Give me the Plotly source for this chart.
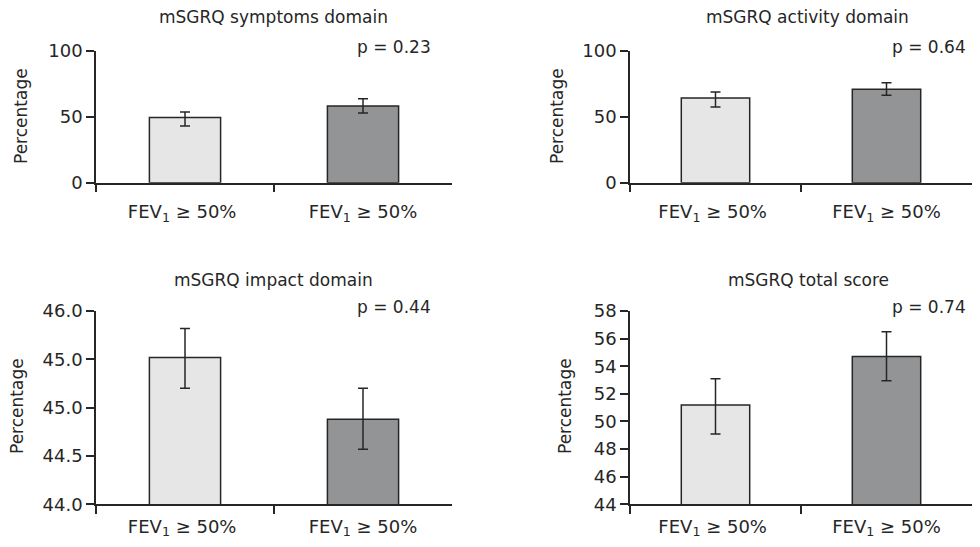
import plotly.graph_objects as go

categories = ["FEV<sub>1</sub> ≥ 50% ", "FEV<sub>1</sub> ≥ 50%"]
panel_titles = ["mSGRQ symptoms domain", "mSGRQ activity domain",
                "mSGRQ impact domain", "mSGRQ total score"]
p_values = ["p = 0.23", "p = 0.64", "p = 0.44", "p = 0.74"]
y_title = "Percentage"

symptoms = [49.5, 58.2]
symptoms_err_plus = [4.2, 5.6]
symptoms_err_minus = [6.5, 5.3]

activity = [64.3, 70.9]
activity_err_plus = [4.6, 5.0]
activity_err_minus = [6.8, 4.5]

impact = [45.52, 44.88]
impact_err_plus = [0.30, 0.32]
impact_err_minus = [0.32, 0.31]

total = [51.2, 54.7]
total_err_plus = [1.9, 1.8]
total_err_minus = [2.1, 1.75]

yticks_pct = [0, 50, 100]
yticks_impact = [44.0, 44.5, 45.0, 45.5, 46.0]
yticks_impact_text = ["44.0", "44.5", "45.0", "45.0", "46.0"]
yticks_total = [44, 46, 48, 50, 52, 54, 56, 58]

bar_colors = ["#e5e6e5", "#939496"]
ink = "#262626"
FONT = "DejaVu Sans"

fig = go.Figure()

panels = [
    (symptoms, symptoms_err_plus, symptoms_err_minus),
    (activity, activity_err_plus, activity_err_minus),
    (impact, impact_err_plus, impact_err_minus),
    (total, total_err_plus, total_err_minus),
]

for i, (vals, ep, em) in enumerate(panels):
    n = "" if i == 0 else str(i + 1)
    fig.add_trace(go.Bar(
        x=categories, y=vals,
        xaxis="x" + n, yaxis="y" + n,
        width=0.4,
        marker=dict(color=bar_colors, line=dict(color=ink, width=1.5)),
        error_y=dict(type="data", symmetric=False, array=ep, arrayminus=em,
                     color=ink, thickness=1.5, width=5),
        showlegend=False, hoverinfo="y",
    ))

# page body has an 8px margin: the figure fills 964 x 531 starting at (8, 8)
OFF, W, H = 8.0, 964.0, 531.0
def px(x):
    return min(1.0, max(0.0, (x - OFF) / W))
def py(y):
    return min(1.0, max(0.0, 1 - (y - OFF) / H))

x_left = [px(96), px(452)]
x_right = [px(630), px(972)]
y_top = [py(182.7), py(51)]
y_bot = [py(504.3), py(311)]

xdomains = [x_left, x_right, x_left, x_right]
ydomains = [y_top, y_top, y_bot, y_bot]
yranges = [[0, 100], [0, 100], [44, 46], [44, 58]]
ytickvals = [yticks_pct, yticks_pct, yticks_impact, yticks_total]
yticktexts = [[str(v) for v in yticks_pct], [str(v) for v in yticks_pct],
              yticks_impact_text, [str(v) for v in yticks_total]]
xstandoff = [12, 12, 5, 5]

layout = dict(
    autosize=True,
    margin=dict(l=0, r=0, t=0, b=0, autoexpand=False),
    paper_bgcolor="white", plot_bgcolor="white",
    font=dict(family=FONT, size=17, color=ink),
)

for i in range(4):
    n = "" if i == 0 else str(i + 1)
    layout["xaxis" + n] = dict(
        domain=xdomains[i], anchor="y" + n, type="category",
        range=[-0.5, 1.5], showline=True, linecolor=ink, linewidth=1.5,
        ticks="outside", tickson="boundaries", ticklen=8, tickcolor=ink,
        tickwidth=1.5, showgrid=False, zeroline=False, automargin=False,
        tickfont=dict(family=FONT, size=18, color=ink),
        ticklabelstandoff=xstandoff[i],
    )
    layout["yaxis" + n] = dict(
        domain=ydomains[i], anchor="x" + n, range=yranges[i],
        tickmode="array", tickvals=ytickvals[i], ticktext=yticktexts[i],
        showline=True, linecolor=ink, linewidth=1.5,
        ticks="outside", ticklen=8, tickcolor=ink, tickwidth=1.5,
        showgrid=False, zeroline=False, automargin=False,
        tickfont=dict(family=FONT, size=18, color=ink),
    )

annotations = []
title_pos = [(273, 17), (807, 17), (273, 280), (808, 280)]
p_pos = [(433, 47), (968, 47), (433, 307), (968, 307)]
ytitle_pos = [(21, 116), (557, 116), (17, 406), (565, 406)]
for i in range(4):
    annotations.append(dict(
        text=panel_titles[i], xref="paper", yref="paper",
        x=px(title_pos[i][0]), y=py(title_pos[i][1]),
        xanchor="center", yanchor="middle", showarrow=False,
        font=dict(family=FONT, size=17, color=ink),
    ))
    annotations.append(dict(
        text=p_values[i], xref="paper", yref="paper",
        x=px(p_pos[i][0]), y=py(p_pos[i][1]),
        xanchor="right", yanchor="middle", showarrow=False,
        font=dict(family=FONT, size=17, color=ink),
    ))
    annotations.append(dict(
        text=y_title, xref="paper", yref="paper", textangle=-90,
        x=px(ytitle_pos[i][0]), y=py(ytitle_pos[i][1]),
        xanchor="center", yanchor="middle", showarrow=False,
        font=dict(family=FONT, size=17, color=ink),
    ))
layout["annotations"] = annotations

fig.update_layout(**layout)
fig.write_html("out.html")
